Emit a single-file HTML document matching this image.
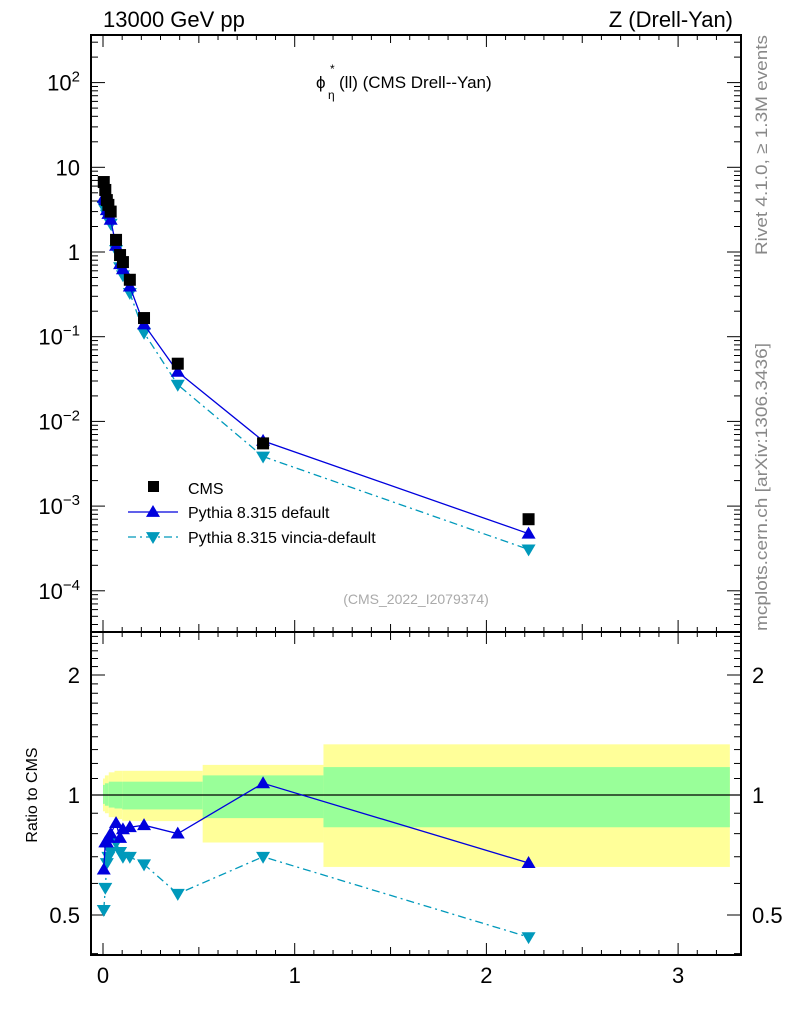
<!DOCTYPE html>
<html><head><meta charset="utf-8"><style>
html,body{margin:0;padding:0;background:#fff;}
svg{display:block;font-family:"Liberation Sans",sans-serif;}
</style></head><body>
<svg id="c" width="786" height="1024" viewBox="0 0 786 1024"></svg>
<script>
const xVals=[0.004,0.012,0.02,0.028,0.04,0.068,0.089,0.104,0.14,0.214,0.39,0.835,2.22];
const cmsVals=[6.7,5.4,4.1,3.6,3.0,1.39,0.92,0.76,0.47,0.166,0.048,0.0055,0.0007];
const defRatio=[0.65,0.76,0.76,0.78,0.80,0.85,0.78,0.82,0.83,0.84,0.80,1.07,0.675];
const vinRatio=[0.515,0.585,0.675,0.70,0.72,0.76,0.72,0.70,0.70,0.67,0.565,0.70,0.44];
const bandEdges=[0,0.01,0.03,0.06,0.1,0.52,1.15,3.27];
const yelHi=[1.10,1.12,1.14,1.15,1.15,1.19,1.34];
const yelLo=[0.91,0.90,0.88,0.87,0.86,0.76,0.66];
const grnHi=[1.06,1.07,1.08,1.08,1.08,1.12,1.175];
const grnLo=[0.95,0.94,0.93,0.925,0.92,0.875,0.83];
const xTicks=[0,1,2,3];
const mainTicks=[2,1,0,-1,-2,-3,-4];
const mainBase=["10","10","1","10","10","10","10"];
const mainExp=["2","","","−1","−2","−3","−4"];
const ratioLabels=[0.5,1,2];

const S=document.getElementById('c');
const NS='http://www.w3.org/2000/svg';
function el(t,a,txt,parent){const e=document.createElementNS(NS,t);for(const k in a)e.setAttribute(k,a[k]);if(txt!==undefined)e.textContent=txt;(parent||S).appendChild(e);return e;}
const L=91,R=741,T=35,M=632,B=955;
const X=v=>103+v*191.7;
const YM=v=>252-Math.log10(v)*84.7;
const YR=v=>795-Math.log10(v)*398.6;

for(let i=0;i<yelHi.length;i++){
  const x0=X(bandEdges[i]),x1=X(bandEdges[i+1]);
  const y=el('rect',{x:x0,y:YR(yelHi[i]),width:x1-x0,height:YR(yelLo[i])-YR(yelHi[i]),fill:'#ffff99'});
  
  
  const g=el('rect',{x:x0,y:YR(grnHi[i]),width:x1-x0,height:YR(grnLo[i])-YR(grnHi[i]),fill:'#99ff99'});
  
  
}
const one=el('line',{x1:L,x2:R,y1:YR(1),y2:YR(1),stroke:'#000','stroke-width':1.2});



for(const [t,b,n] of [[T,M,'main-frame'],[M,B,'ratio-frame']]){
  const r=el('rect',{x:L,y:t,width:R-L,height:b-t,fill:'none',stroke:'#000','stroke-width':2});
  
  
}
for(let v=0;v<=3.3;v+=0.1){
  const vv=Math.round(v*10)/10;const maj=Math.abs(vv-Math.round(vv))<1e-6;const len=maj?12:(Math.abs(vv*2-Math.round(vv*2))<1e-6?8:5);
  for(const [y0,d] of [[M,-1],[B,-1],[T,1],[M,1]]){el('line',{x1:X(vv),x2:X(vv),y1:y0,y2:y0+d*len,stroke:'#000','stroke-width':1});}
}
xTicks.forEach(v=>{const t=el('text',{x:X(v),y:983,'font-size':22,'text-anchor':'middle'},String(v));});
mainTicks.forEach((p,i)=>{
  const y=YM(Math.pow(10,p));
  [[L,1],[R,-1]].forEach(([x0,d])=>el('line',{x1:x0,x2:x0+d*14,y1:y,y2:y,stroke:'#000'}));
  for(let k=2;k<10;k++){const yy=YM(k*Math.pow(10,p-1));if(yy<T||yy>M)continue;[[L,1],[R,-1]].forEach(([x0,d])=>el('line',{x1:x0,x2:x0+d*7,y1:yy,y2:yy,stroke:'#000'}));}
  const t=el('text',{x:80,y:y+8,'font-size':22,'text-anchor':'end'});
  
  
  el('tspan',{},mainBase[i],t);
  if(mainExp[i]) el('tspan',{'font-size':15,dy:-9},mainExp[i],t);
});
for(let k=2;k<10;k++){const yy=YM(k*100);if(yy>=T)[[L,1],[R,-1]].forEach(([x0,d])=>el('line',{x1:x0,x2:x0+d*7,y1:yy,y2:yy,stroke:'#000'}));}
for(let v=0.4;v<=2.55;v+=0.1){const vv=Math.round(v*10)/10;const yy=YR(vv);if(yy<M||yy>B)continue;const maj=[0.5,1,2].includes(vv);[[L,1],[R,-1]].forEach(([x0,d])=>el('line',{x1:x0,x2:x0+d*(maj?14:7),y1:yy,y2:yy,stroke:'#000'}));}
ratioLabels.forEach(v=>{
  const a=el('text',{x:80,y:YR(v)+8,'font-size':22,'text-anchor':'end'},String(v));
  const b=el('text',{x:752,y:YR(v)+8,'font-size':22},String(v));
});

function tri(x,y,up){const s=7;return up?`${x},${y-s} ${x-s},${y+s*0.7} ${x+s},${y+s*0.7}`:`${x},${y+s} ${x-s},${y-s*0.7} ${x+s},${y-s*0.7}`;}
function series(yf,vals,col,dash,up,name){
  const pts=xVals.map((x,i)=>X(x)+','+yf(vals[i])).join(' ');
  const a={points:pts,fill:'none',stroke:col,'stroke-width':1.3};if(dash)a['stroke-dasharray']=dash;
  const pl=el('polyline',a);
  xVals.forEach((x,i)=>{const p=el('polygon',{points:tri(X(x),yf(vals[i]),up),fill:col});});
}
series(YM,cmsVals.map((c,i)=>c*vinRatio[i]),'#0099bb','8,4,2,4',false,'vincia');
series(YM,cmsVals.map((c,i)=>c*defRatio[i]),'#0000dd',null,true,'pythia-default');
xVals.forEach((x,i)=>{const r=el('rect',{x:X(x)-6,y:YM(cmsVals[i])-6,width:12,height:12,fill:'#000'});});
series(YR,vinRatio,'#0099bb','8,4,2,4',false,'vincia-ratio');
series(YR,defRatio,'#0000dd',null,true,'pythia-default-ratio');

function txt(a,s,n){const t=el('text',a,s);return t;}
txt({x:103,y:27,'font-size':22},'13000 GeV pp','beam-label');
txt({x:733,y:27,'font-size':22,'text-anchor':'end'},'Z (Drell-Yan)','process-label');
txt({x:316,y:88,'font-size':17},'ϕ','title-phi');
txt({x:330,y:73,'font-size':12},'*','title-star');
txt({x:328,y:99,'font-size':12},'η','title-eta');
txt({x:339,y:88,'font-size':17},'(ll) (CMS Drell--Yan)','plot-title');
txt({x:416,y:604,'font-size':14,fill:'#aaaaaa','text-anchor':'middle'},'(CMS_2022_I2079374)','analysis-id');
txt({x:0,y:0,'font-size':17,fill:'#888','text-anchor':'end',textLength:220,lengthAdjust:'spacingAndGlyphs',transform:'translate(767,35) rotate(-90)'},'Rivet 4.1.0, ≥ 1.3M events','rivet-label');
txt({x:0,y:0,'font-size':17,fill:'#888','text-anchor':'end',textLength:288,lengthAdjust:'spacingAndGlyphs',transform:'translate(767,343) rotate(-90)'},'mcplots.cern.ch [arXiv:1306.3436]','mcplots-label');
txt({x:0,y:0,'font-size':16,'text-anchor':'middle',transform:'translate(37,795) rotate(-90)'},'Ratio to CMS','ratio-y-title');
const lr=el('rect',{x:148,y:481,width:11,height:11,fill:'#000'});
txt({x:188,y:494,'font-size':16},'CMS','legend-cms');
const l1=el('line',{x1:128,x2:178,y1:512,y2:512,stroke:'#0000dd','stroke-width':1.3});
const p1=el('polygon',{points:tri(153,512,true),fill:'#0000dd'});
txt({x:188,y:518,'font-size':16},'Pythia 8.315 default','legend-default');
const l2=el('line',{x1:128,x2:178,y1:537,y2:537,stroke:'#0099bb','stroke-width':1.3,'stroke-dasharray':'8,4,2,4'});
const p2=el('polygon',{points:tri(153,537,false),fill:'#0099bb'});
txt({x:188,y:543,'font-size':16},'Pythia 8.315 vincia-default','legend-vincia');
</script>
</body></html>
